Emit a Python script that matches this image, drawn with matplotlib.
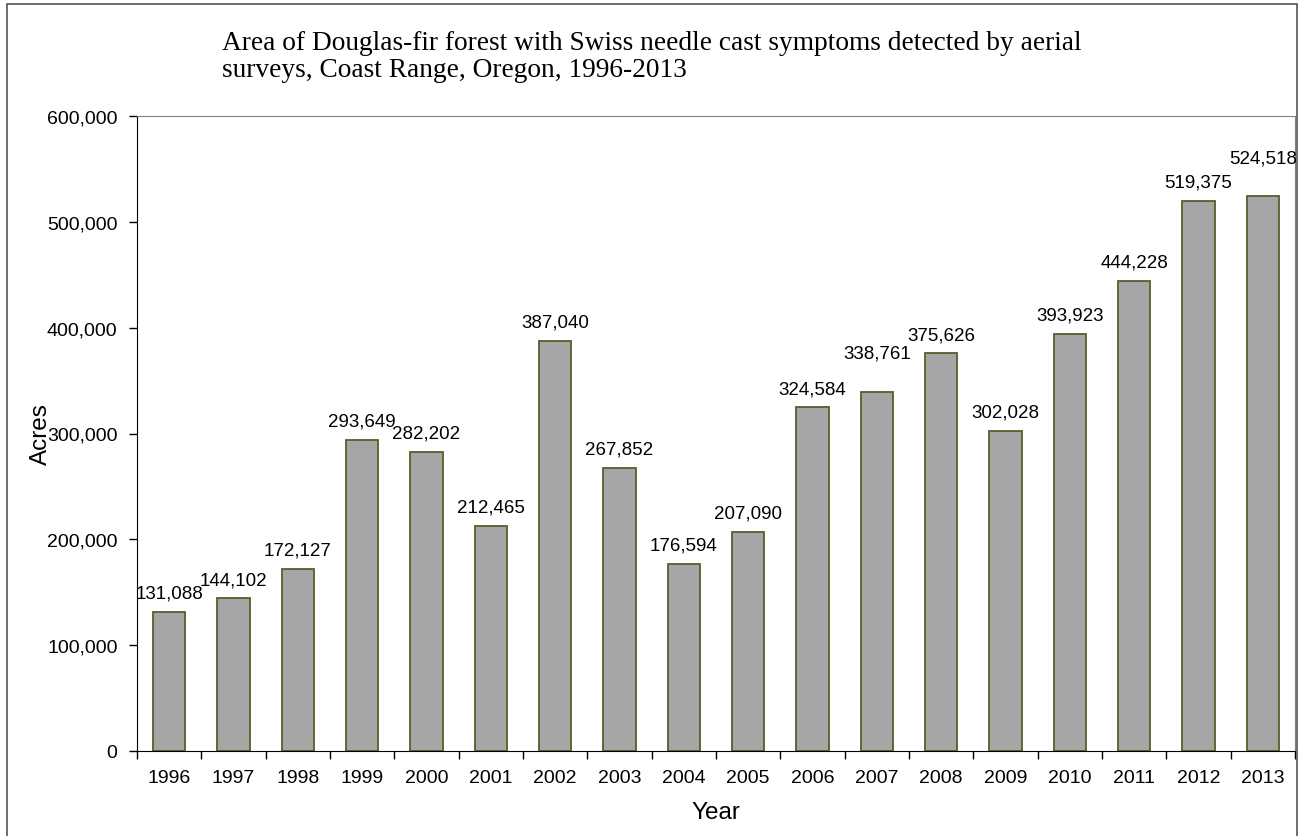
import matplotlib.pyplot as plt
import numpy as np
from matplotlib.patches import Rectangle
from matplotlib.ticker import FuncFormatter

# =========================
# Data
# =========================

years = ['1996', '1997', '1998', '1999', '2000', '2001', '2002', '2003', '2004',
         '2005', '2006', '2007', '2008', '2009', '2010', '2011', '2012', '2013']
acres = [131088, 144102, 172127, 293649, 282202, 212465, 387040, 267852, 176594,
         207090, 324584, 338761, 375626, 302028, 393923, 444228, 519375, 524518]
title = ('Area of Douglas-fir forest with Swiss needle cast symptoms detected by aerial\n'
         'surveys, Coast Range, Oregon, 1996-2013')

# labels that were nudged up in the original so they do not collide
label_lift = {'2007': 15, '2013': 14}

# =========================
# Plot
# =========================

plt.rcParams['font.family'] = 'Liberation Sans'

fig = plt.figure(figsize=(13.03, 8.37), dpi=100)
ax = fig.add_axes([137 / 1303, 1 - 752 / 837, (1295 - 137) / 1303, (752 - 117) / 837])

# outer chart border
fig.patches.append(Rectangle((7 / 1303, -0.01), (1297 - 7) / 1303, 1 - 5 / 837 + 0.01,
                             transform=fig.transFigure, fill=False,
                             edgecolor='#555555', linewidth=1.2))

x = np.arange(len(years))
ax.bar(x, acres, width=0.5, color='#a6a6a6', edgecolor='#4f6228', linewidth=1.3)

for xi, yr, v in zip(x, years, acres):
    ax.annotate(f'{v:,}', (xi, v), xytext=(0, 7.5 + label_lift.get(yr, 0)),
                textcoords='offset points', ha='center', va='bottom', fontsize=13.5)

ax.set_xlim(-0.5, len(years) - 0.5)
ax.set_ylim(0, 600000)
ax.set_yticks(np.arange(0, 600001, 100000))
ax.yaxis.set_major_formatter(FuncFormatter(lambda v, p: f'{int(v):,}'))

ax.set_xticks(x)
ax.set_xticklabels(years)
ax.set_xticks(np.arange(-0.5, len(years), 1), minor=True)
ax.tick_params(axis='x', which='major', length=0, labelsize=14, pad=13)
ax.tick_params(axis='x', which='minor', length=6, direction='out', width=1)
ax.tick_params(axis='y', length=6, direction='out', width=1, labelsize=14, pad=8)

ax.spines['left'].set_color('black')
ax.spines['bottom'].set_color('black')
ax.spines['top'].set_color('#808080')
ax.spines['right'].set_color('#808080')

ax.set_ylabel('Acres', fontsize=17.5)
ax.yaxis.set_label_coords(-0.0734, 0.5)
ax.set_xlabel('Year', fontsize=17.5, labelpad=11)

fig.text(222 / 1303, 1 - 31 / 837, title, family='Liberation Serif', fontsize=19.7,
         ha='left', va='top', linespacing=1.1)

fig.savefig('out.png', dpi=100)
